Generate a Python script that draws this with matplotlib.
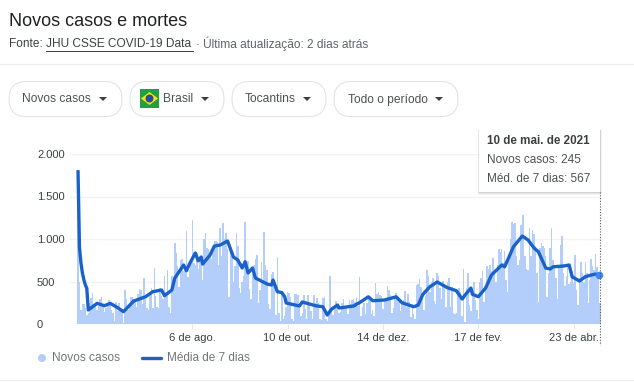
import matplotlib
matplotlib.use("Agg")
import matplotlib.pyplot as plt
from matplotlib.patches import FancyBboxPatch, Rectangle, Polygon, Circle

# Daily new cases, one row per week
cases = [
    1810, 500, 170, 230, 230, 190, 110,
    130, 250, 310, 370, 230, 210, 160,
    210, 290, 320, 200, 140, 190, 250,
    280, 240, 170, 130, 40, 260, 150,
    250, 190, 170, 10, 400, 290, 170,
    200, 320, 320, 300, 260, 200, 350,
    410, 400, 240, 540, 300, 190, 170,
    370, 420, 190, 660, 330, 200, 190,
    420, 330, 290, 560, 380, 640, 200,
    130, 570, 540, 950, 840, 680, 440,
    750, 760, 620, 680, 1090, 550, 640,
    720, 1223, 720, 700, 830, 650, 760,
    800, 520, 1000, 1074, 900, 880, 840,
    770, 900, 980, 980, 960, 700, 1125,
    800, 1190, 1000, 1066, 880, 320, 900,
    800, 500, 680, 1074, 920, 420, 370,
    500, 570, 1203, 720, 740, 410, 300,
    590, 700, 760, 811, 250, 400, 733,
    500, 1080, 700, 640, 230, 180, 590,
    615, 430, 110, 790, 130, 40, 380,
    60, 100, 200, 380, 360, 320, 60,
    40, 350, 350, 340, 200, 100, 130,
    340, 180, 60, 340, 250, 150, 60,
    340, 250, 310, 250, 60, 50, 310,
    313, 60, 30, 100, 564, 150, 110,
    200, 270, 230, 130, 140, 250, 290,
    200, 190, 120, 280, 230, 280, 300,
    260, 310, 210, 557, 90, 200, 250,
    120, 250, 290, 300, 120, 170, 90,
    478, 350, 380, 340, 330, 180, 260,
    300, 447, 400, 340, 130, 190, 290,
    368, 300, 260, 150, 260, 280, 388,
    200, 350, 260, 80, 230, 120, 60,
    459, 470, 530, 430, 300, 170, 330,
    635, 564, 380, 500, 540, 270, 230,
    604, 560, 420, 300, 510, 470, 200,
    500, 545, 200, 430, 125, 120, 130,
    400, 420, 380, 100, 643, 20, 420,
    596, 220, 150, 410, 498, 280, 160,
    60, 490, 540, 623, 260, 400, 682,
    650, 700, 620, 772, 600, 500, 700,
    878, 850, 878, 720, 860, 520, 380,
    800, 1000, 1195, 1176, 1184, 800, 700,
    750, 1160, 1282, 1282, 800, 650, 640,
    1125, 800, 1105, 1060, 920, 600, 255,
    900, 949, 920, 900, 800, 320, 600,
    890, 1125, 750, 660, 540, 300, 700,
    929, 1035, 600, 450, 560, 680, 470,
    500, 620, 480, 811, 400, 223, 540,
    733, 600, 500, 733, 600, 243, 520,
    760, 680, 640, 819, 674, 590, 245,
]

# 7 day average, day number and value
avg_days = [0, 1, 2, 3, 4, 5, 6, 7, 13, 18, 22, 27, 31, 38, 46, 51, 57, 59, 64, 66,
            72, 74, 76, 80, 82, 84, 85, 90, 93, 97, 102, 106, 109, 112, 114, 116,
            119, 121, 126, 129, 132, 133, 136, 139, 141, 142, 151, 153, 162, 167,
            170, 173, 177, 178, 188, 193, 198, 201, 209, 217, 221, 229, 232, 235,
            236, 240, 245, 252, 258, 262, 264, 268, 269, 273, 278, 282, 289, 291,
            297, 303, 307, 311, 314, 319, 322, 324, 331, 335, 337, 342, 346, 350,
            353, 356]
avg_values = [1810, 900, 720, 600, 520, 460, 420, 165, 243, 215, 243, 192, 145, 270, 320,
              380, 400, 333, 400, 540, 694, 627, 705, 835, 744, 788, 705, 810, 917,
              929, 976, 788, 753, 659, 733, 600, 659, 541, 497, 470, 459, 517, 380,
              370, 320, 247, 212, 259, 215, 203, 106, 176, 223, 188, 212, 262, 320,
              274, 282, 320, 250, 203, 223, 341, 364, 439, 494, 427, 392, 294, 341,
              423, 350, 321, 423, 576, 694, 673, 909, 1035, 988, 894, 850, 659, 647,
              673, 682, 694, 556, 506, 556, 576, 588, 567]

tick_days = [78, 143, 208, 273, 338]
tick_labels = ["6 de ago.", "10 de out.", "14 de dez.", "17 de fev.", "23 de abr."]
y_ticks = [0, 500, 1000, 1500, 2000]
y_labels = ["0", "500", "1.000", "1.500", "2.000"]

W, H = 634, 386
FONT = "Liberation Sans"
GREY = "#4d5156"
BAR = "#b3cefa"
LINE = "#1a62c9"

plt.rcParams["font.family"] = FONT
fig = plt.figure(figsize=(W / 100, H / 100), dpi=100)

# chart axes, placed in pixels
left, right, top, bottom = 70, 601, 154, 324
ax = fig.add_axes([left / W, 1 - bottom / H, (right - left) / W, (bottom - top) / H])
ax.bar(range(len(cases)), cases, width=1.0, color=BAR, linewidth=0, zorder=2)
ax.plot(avg_days, avg_values, color=LINE, lw=2.4, zorder=3, clip_on=False,
        solid_joinstyle="round", solid_capstyle="butt")
ax.set_xlim(-5.46, 356.7)
ax.set_ylim(0, 2000)
ax.set_yticks(y_ticks)
ax.set_yticklabels(y_labels, ha="left", va="center_baseline", fontsize=8, color="#3c4043")
ax.set_xticks(tick_days)
ax.set_xticklabels(tick_labels, fontsize=8, color="#3c4043")
ax.tick_params(axis="y", length=0, pad=23.8)
ax.tick_params(axis="x", length=3.5, color="#e6e6e6", pad=3)
ax.grid(axis="y", color="#f3f3f3", lw=1, zorder=0)
for s in ax.spines.values():
    s.set_visible(False)

# overlay in pixel coordinates for everything around the chart
ov = fig.add_axes([0, 0, 1, 1], zorder=5)
ov.set_xlim(0, W)
ov.set_ylim(H, 0)
ov.axis("off")

ov.text(9, 21, "Novos casos e mortes", fontsize=13, color="#202124", va="center")
ov.text(9, 44, "Fonte: ", fontsize=8.6, color="#3c4043", va="center")
ov.text(46, 44, "JHU CSSE COVID-19 Data", fontsize=8.6, color="#3c4043", va="center")
ov.plot([46, 193], [50.5, 50.5], color="#3c4043", lw=0.7)
ov.text(196, 44, "· Última atualização: 2 dias atrás", fontsize=8.6, color="#5f6368", va="center")
ov.plot([0, W], [64, 64], color="#ececec", lw=0.8)
ov.plot([0, W], [380, 380], color="#ececec", lw=0.8)

# filter chips
chips = [(9, 122, "Novos casos", 22), (130, 224, "Brasil", 163),
         (232, 326, "Tocantins", 245), (334, 458, "Todo o período", 348)]
for x0, x1, label, tx in chips:
    ov.add_patch(FancyBboxPatch((x0 + 17.5, 81.5 + 17.5), x1 - x0 - 35, 0.1,
                                boxstyle="round,pad=17.5,rounding_size=17.5",
                                facecolor="white", edgecolor="#e3e4e8", lw=0.8))
    ov.text(tx, 99.5, label, fontsize=8.64, color=GREY, va="center")
    ov.add_patch(Polygon([[x1 - 23, 97], [x1 - 15, 97], [x1 - 19, 101]], color="#3c4043", lw=0))

# flag
ov.add_patch(Rectangle((140, 89), 19, 19, color="#229e45", lw=0))
ov.add_patch(Polygon([[141, 98.5], [149.5, 92], [158, 98.5], [149.5, 105]], color="#f8e509", lw=0))
ov.add_patch(Circle((149.5, 98.5), 4, color="#2b49a3", lw=0))

# tooltip and hover marker
ov.plot([600, 600], [192, 345], color="#555555", lw=0.8, ls=(0, (1, 1.5)))
for grow, alpha in [(3, 0.10), (2, 0.15), (1, 0.25)]:
    ov.add_patch(Rectangle((479 - grow / 2, 130), 121 + grow, 62 + grow,
                           facecolor="#999999", lw=0, alpha=alpha))
ov.add_patch(Rectangle((479, 130), 121, 62, facecolor="white", lw=0))
ov.text(487, 141, "10 de mai. de 2021", fontsize=8.4, fontweight="bold", color="#3c4043", va="center")
ov.text(487, 160, "Novos casos: 245", fontsize=8.5, color=GREY, va="center")
ov.text(487, 179, "Méd. de 7 dias: 567", fontsize=8.5, color=GREY, va="center")
ov.add_patch(Circle((599.5, 275.5), 3.8, color="#4285f4", lw=0))

# legend
ov.add_patch(Circle((42, 358), 4, color=BAR, lw=0))
ov.text(52, 358, "Novos casos", fontsize=8.6, color="#70757a", va="center")
ov.plot([142, 161], [358, 358], color=LINE, lw=2.4, solid_capstyle="round")
ov.text(167, 358, "Média de 7 dias", fontsize=8.5, color="#70757a", va="center")

fig.savefig("out.png", dpi=100)
